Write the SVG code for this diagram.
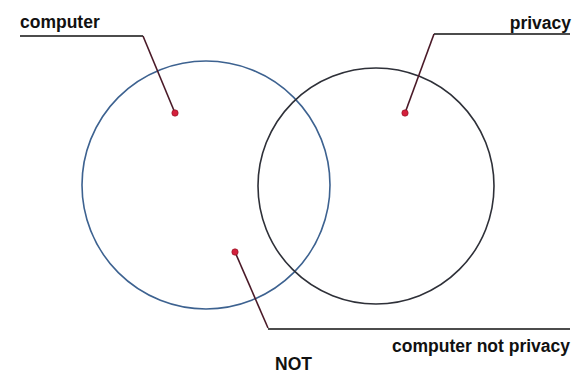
<svg xmlns="http://www.w3.org/2000/svg" width="578" height="392" viewBox="0 0 578 392">
<style>
.lbl{font-family:"Liberation Sans",Arial,sans-serif;font-weight:bold;font-size:17.5px;fill:#111}
.rule{stroke:#111;stroke-width:1.5;fill:none}
.lead{stroke:#4a1a28;stroke-width:1.6;fill:none}
.dot{fill:#d4203c;stroke:#8a1020;stroke-width:0.6}
</style>
<rect width="578" height="392" fill="#fff"/>
<g id="circle-computer"><circle cx="206" cy="185" r="124" fill="none" stroke="#3d6290" stroke-width="1.6"/></g>
<g id="circle-privacy"><circle cx="376" cy="186" r="118" fill="none" stroke="#2e3038" stroke-width="1.6"/></g>
<g id="connectors">
<line class="rule" x1="20" y1="36" x2="143" y2="36"/>
<line class="lead" x1="143" y1="36" x2="175" y2="113"/>
<line class="rule" x1="434" y1="34" x2="570" y2="34"/>
<line class="lead" x1="434" y1="34" x2="405" y2="113"/>
<line class="lead" x1="235" y1="252" x2="268" y2="328"/>
<line class="rule" x1="268" y1="329" x2="570" y2="329"/>
</g>
<g id="label-computer"><text class="lbl" x="20" y="28">computer</text><circle class="dot" cx="175" cy="113" r="3.2"/></g>
<g id="label-privacy"><text class="lbl" x="571" y="29" text-anchor="end">privacy</text><circle class="dot" cx="405" cy="113" r="3.2"/></g>
<g id="label-not"><circle class="dot" cx="235" cy="252" r="3.2"/><text class="lbl" x="570" y="352" text-anchor="end">computer not privacy</text><text class="lbl" x="275" y="370">NOT</text></g>
</svg>
